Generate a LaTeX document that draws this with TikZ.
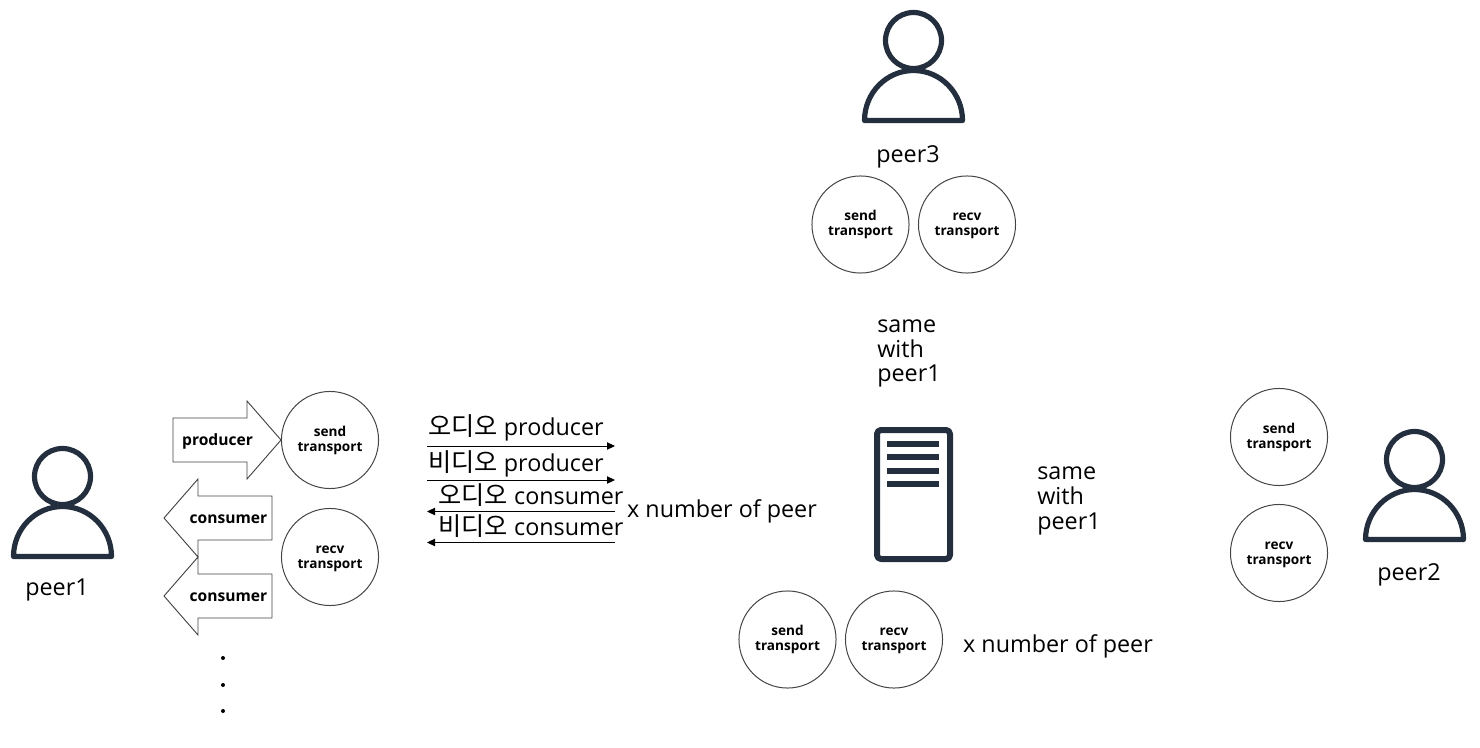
\documentclass[tikz,border=0pt]{standalone}
\usepackage{fontspec}
\setmainfont{Open Sans}
\newfontfamily\krfont[Scale=1.08]{Noto Sans CJK KR}
\usetikzlibrary{arrows.meta,positioning}

\definecolor{icondark}{HTML}{232F3E}
\definecolor{linegray}{HTML}{444444}

\tikzset{
    transport/.style={draw=linegray, line width=0.75pt, circle, minimum size=72.8pt, inner sep=0pt, align=center,
        font=\fontsize{10.2}{11.2}\selectfont\bfseries},
    blockarrow/.style={draw=linegray, fill=white, line width=0.7pt, line join=miter},
    blocklabel/.style={inner sep=0pt, font=\fontsize{11.7}{13}\selectfont\bfseries},
    biglabel/.style={inner sep=0pt, align=left, font=\fontsize{17.5}{18.4}\selectfont},
    msgline/.style={black, line width=0.7pt, -{Triangle[length=6pt,width=5.5pt]}},
    icon/.style={draw=icondark, line width=3.9pt, line join=round},
    pics/person/.style={code={
        \draw[icon] (0,0) circle (28);
        \draw[icon] (-49,80) arc[start angle=180, end angle=360, x radius=49, y radius=50] -- cycle;
    }}
}

\begin{document}
\begin{tikzpicture}[x=0.75pt, y=-0.75pt]
    \useasboundingbox (0,0) rectangle (1480,748);

    % Users
    \pic at (62.5,476.5) {person};
    \node[biglabel] (peerA) at (57,590) {peer1};
    \pic at (1414.5,459.5) {person};
    \node[biglabel] (peerB) at (1409,575) {peer2};
    \pic at (913.5,40.5) {person};
    \node[biglabel] (peerC) at (908,157) {peer3};

    % Block arrows of peer1
    \draw[blockarrow] (173,418) -- (247,418) -- (247,401) -- (281,440) -- (247,479) -- (247,462) -- (173,462) -- cycle;
    \node[blocklabel] (prodA) at (217.5,441.5) {producer};
    \draw[blockarrow] (272,496) -- (198,496) -- (198,479) -- (164,518) -- (198,557) -- (198,540) -- (272,540) -- cycle;
    \node[blocklabel] (consA) at (228.5,519.5) {consumer};
    \draw[blockarrow] (272,574) -- (198,574) -- (198,557) -- (164,596) -- (198,635) -- (198,618) -- (272,618) -- cycle;
    \node[blocklabel] (consB) at (228.5,597.5) {consumer};

    % Dots
    \foreach \name/\ypos in {dotA/658, dotB/685, dotC/711}
        \fill (223,\ypos) circle (2) coordinate (\name);

    % Transports
    \node[transport] (sendA) at (330,440) {send\\transport};
    \node[transport] (recvA) at (330,557) {recv\vphantom{d}\\transport};
    \node[transport] (sendB) at (1279,437) {send\\transport};
    \node[transport] (recvB) at (1279,553) {recv\vphantom{d}\\transport};
    \node[transport] (sendC) at (860.5,224.5) {send\\transport};
    \node[transport] (recvC) at (967,224.5) {recv\vphantom{d}\\transport};
    \node[transport] (sendS) at (787.5,639.5) {send\\transport};
    \node[transport] (recvS) at (894,639.5) {recv\vphantom{d}\\transport};

    % Messages
    \coordinate (msgAl) at (427,446);
    \coordinate (msgAr) at (615,446);
    \coordinate (msgBl) at (427,480);
    \coordinate (msgBr) at (615,480);
    \coordinate (msgCl) at (427,511.5);
    \coordinate (msgCr) at (615,511.5);
    \coordinate (msgDl) at (427,542.5);
    \coordinate (msgDr) at (615,542.5);
    \draw[msgline] (msgAl) -- (msgAr);
    \draw[msgline] (msgBl) -- (msgBr);
    \draw[msgline] (msgCr) -- (msgCl);
    \draw[msgline] (msgDr) -- (msgDl);
    \node[biglabel] (textA) at (516,428) {{\krfont 오디오} producer};
    \node[biglabel] (textB) at (516,463.5) {{\krfont 비디오} producer};
    \node[biglabel] (textC) at (531,495) {{\krfont 오디오} consumer};
    \node[biglabel] (textD) at (531,526.5) {{\krfont 비디오} consumer};
    \node[biglabel] (timesA) at (722,511) {x number of peer};
    \node[biglabel] (timesS) at (1058,646) {x number of peer};

    % Server
    \draw[icon, line width=4.5pt, rounded corners=3pt] (877,430) rectangle (950,559);
    \foreach \ypos in {444, 457.3, 470.7, 484}
        \draw[icondark, line width=4.5pt] (887,\ypos) -- (939,\ypos);

    % Notes
    \node[biglabel, anchor=north west] (sameC) at (877,319.5) {same\\with\\peer1};
    \node[biglabel, anchor=north west] (sameB) at (1037,467) {same\\with\\peer1};
\end{tikzpicture}
\end{document}
